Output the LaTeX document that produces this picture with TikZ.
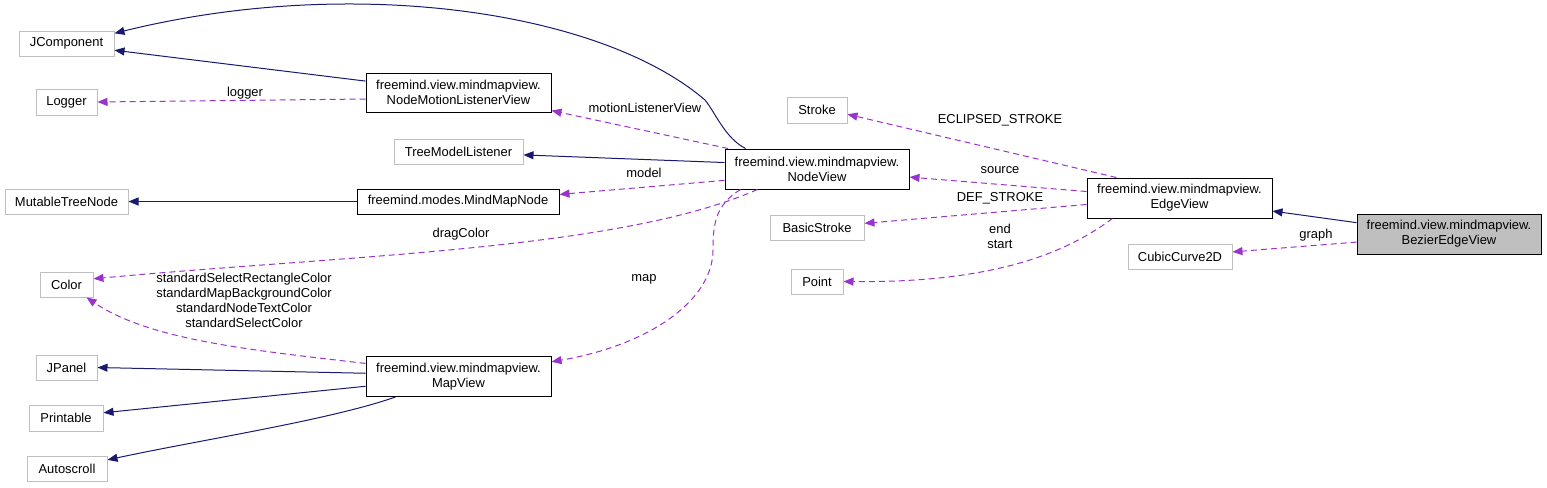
\documentclass[tikz,border=0pt]{standalone}
\usepackage{fontspec}
\setmainfont{Liberation Sans}
\usetikzlibrary{arrows.meta}
\definecolor{inhblue}{RGB}{25,25,112}
\definecolor{usepurple}{RGB}{154,50,205}
\definecolor{boxgray}{RGB}{191,191,191}

\begin{document}
\begin{tikzpicture}[x=0.75pt, y=-0.75pt, >={Triangle[length=7.5pt,width=6pt]},
  font=\fontsize{9.7}{11.2}\selectfont,
  cls/.style={draw=black, line width=0.75pt, inner sep=1pt, minimum height=18.75pt, align=center},
  ext/.style={cls, draw=boxgray},
  twoline/.style={minimum width=138.75pt, minimum height=30pt},
  inh/.style={->, draw=inhblue, line width=0.75pt},
  assoc/.style={->, draw=usepurple, line width=0.75pt, dash pattern=on 4.5pt off 3pt},
  lbl/.style={inner sep=0pt, align=center}]
  \useasboundingbox (0,0) rectangle (1547,487);

  % left column
  \node[ext, minimum width=71.25pt] (jcomp) at (66.5,43.5) {JComponent};
  \node[ext, minimum width=45.75pt, minimum height=19.5pt] (logger) at (66.5,102) {Logger};
  \node[ext, minimum width=92.25pt] (mtnode) at (66.5,201.5) {MutableTreeNode};
  \node[ext, minimum width=39.75pt] (color) at (66.5,284.5) {Color};
  \node[ext, minimum width=45.75pt] (jpanel) at (66.5,367.5) {JPanel};
  \node[ext, minimum width=55.5pt, minimum height=19.5pt] (printable) at (66,418) {Printable};
  \node[ext, minimum width=60pt] (autoscroll) at (67,468.5) {Autoscroll};

  % middle columns
  \node[cls, twoline, minimum height=29.25pt] (motionview) at (458.5,92.5) {freemind.view.mindmapview.\\NodeMotionListenerView};
  \node[ext, minimum width=96.75pt] (treelis) at (458.5,151.5) {TreeModelListener};
  \node[cls, minimum width=151.5pt] (mmnode) at (458,201.5) {freemind.modes.MindMapNode};
  \node[cls, twoline] (mapview) at (458.5,376.5) {freemind.view.mindmapview.\\MapView};
  \node[cls, twoline, minimum width=138pt] (nodeview) at (817,169) {freemind.view.mindmapview.\\NodeView};
  \node[ext, minimum width=45pt, minimum height=19.5pt] (stroke) at (817,110) {Stroke};
  \node[ext, minimum width=70.5pt] (bstroke) at (817,227.5) {BasicStroke};
  \node[ext, minimum width=39pt] (point) at (817,281.5) {Point};

  % right
  \node[cls, twoline] (edgeview) at (1179.5,198) {freemind.view.mindmapview.\\EdgeView};
  \node[ext, minimum width=78pt] (cubic) at (1180,256.5) {CubicCurve2D};
  \node[cls, twoline, minimum width=138pt, fill=boxgray] (bezier) at (1449,234) {freemind.view.mindmapview.\\BezierEdgeView};

  % inheritance
  \draw[inh] (nodeview.164) .. controls (725,138) and (715,112) .. (705,100)
    .. controls (600,10) and (350,-25) .. (jcomp.12);
  \draw[inh] (motionview.173) -- (jcomp.-8);
  \draw[inh] (nodeview.176) -- (treelis.-3);
  \draw[inh] (mmnode.west) -- (mtnode.east);
  \draw[inh] (mapview.178) -- (jpanel.east);
  \draw[inh] (mapview.186) -- (printable.8);
  \draw[inh] (mapview.198) .. controls (330,420) and (200,440) .. (autoscroll.12);
  \draw[inh] (bezier.173) -- (edgeview.-8);

  % usage
  \draw[assoc] (motionview.184) -- (logger.east);
  \draw[assoc] (nodeview.167) -- (motionview.-11);
  \draw[assoc] (nodeview.187) -- (mmnode.4);
  \draw[assoc] (nodeview.199) .. controls (620,250) and (350,255) .. (color.12);
  \draw[assoc] (mapview.172) .. controls (250,350) and (150,340) .. (color.-33);
  \draw[assoc] (nodeview.195) .. controls (715,205) and (713,225) .. (713,250)
    .. controls (713,300) and (650,345) .. (mapview.9);
  \draw[assoc] (edgeview.162) -- (stroke.-8);
  \draw[assoc] (edgeview.176) -- (nodeview.-5);
  \draw[assoc] (edgeview.184) -- (bstroke.5);
  \draw[assoc] (edgeview.197) .. controls (1070,250) and (1000,283) .. (point.east);
  \draw[assoc] (bezier.185) -- (cubic.5);

  % edge labels
  \node[lbl] (lblogger) at (245,93) {logger};
  \node[lbl] (lbmotion) at (645,108) {motionListenerView};
  \node[lbl] (lbmodel) at (644,173) {model};
  \node[lbl] (lbdrag) at (461,234) {dragColor};
  \node[lbl] (lbcolors) at (244,300) {standardSelectRectangleColor\\standardMapBackgroundColor\\standardNodeTextColor\\standardSelectColor};
  \node[lbl] (lbmap) at (644,279) {map};
  \node[lbl] (lbeclipse) at (1000,120) {ECLIPSED\_STROKE};
  \node[lbl] (lbsource) at (1000,170) {source};
  \node[lbl] (lbdef) at (1000,198) {DEF\_STROKE};
  \node[lbl] (lbends) at (1000,236) {end\\start};
  \node[lbl] (lbgraph) at (1316,235) {graph};
\end{tikzpicture}
\end{document}
